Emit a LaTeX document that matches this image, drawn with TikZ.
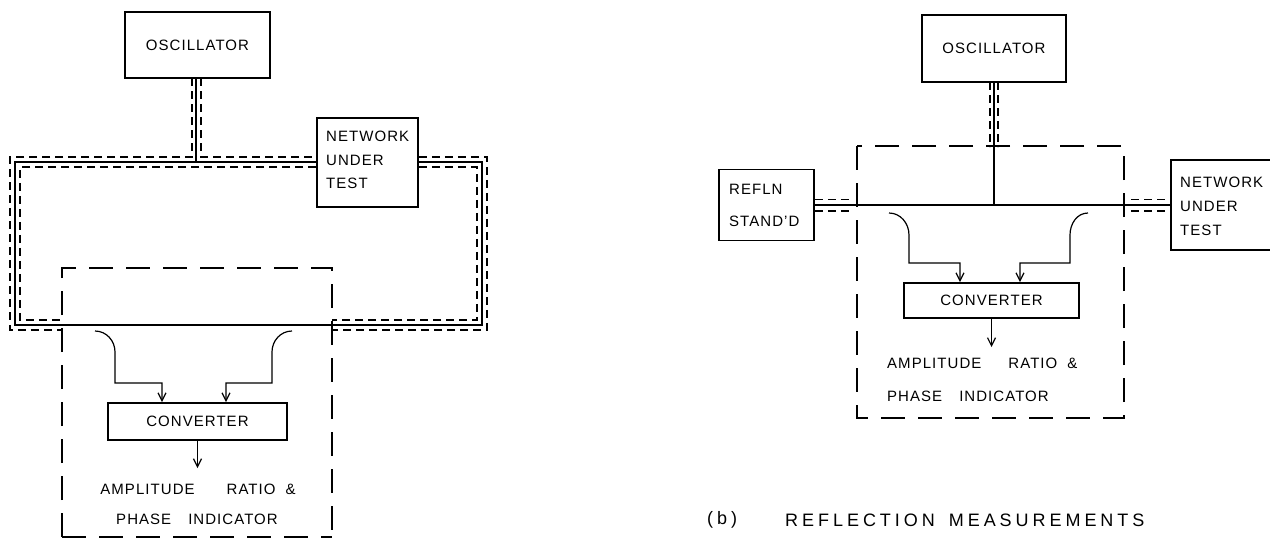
\documentclass[tikz,border=0pt]{standalone}
\usepackage{fontspec}
\setmainfont{Liberation Sans}[LetterSpace=7]
\newfontfamily\capfont{Liberation Sans}[LetterSpace=22]
\usetikzlibrary{arrows.meta,calc}
\begin{document}
\begin{tikzpicture}[x=1pt,y=-1pt,
  box/.style={draw,line width=1.8pt,inner sep=0pt},
  lbl/.style={font=\fontsize{15}{15}\selectfont,inner sep=0pt},
  wire/.style={line width=1.2pt},
  shield/.style={line width=1.1pt,dash pattern=on 8pt off 5pt},
  encl/.style={line width=1.2pt,dash pattern=on 24pt off 13pt},
  arr/.style={wire,-{Straight Barb[length=8pt,width=8pt,line width=1.2pt]}},
]
\useasboundingbox[fill=white] (0,0) rectangle (1270,542);

% ================= LEFT DIAGRAM =================
\node[box,lbl,minimum width=145pt,minimum height=66pt] (osc1) at (197.5,45) {OSCILLATOR};
\node[box,minimum width=101pt,minimum height=89pt] (nut1) at (367.5,162.5) {};
\node[lbl,anchor=west,align=left,font=\fontsize{15}{23.5}\selectfont] (nut1t) at (326,160) {NETWORK\\UNDER\\TEST};
\node[box,lbl,minimum width=179pt,minimum height=37pt] (conv1) at (197.5,421.5) {CONVERTER};
\node[lbl] (amp1) at (198,489) {AMPLITUDE\hspace{32pt}RATIO\hspace{10pt}\&};
\node[lbl] (ph1) at (197,519) {PHASE\hspace{17pt}INDICATOR};

% loop corners
\coordinate (TL) at (15,162);
\coordinate (TR) at (482,162);
\coordinate (BR) at (482,325);
\coordinate (BL) at (15,325);
\coordinate (J1) at (196,162);

% coax inner conductor
\draw[wire] (osc1.south -| J1) -- (J1);
\draw[wire] (nut1.west |- TL) -- (TL) -- (BL) -- (BR) -- (TR) -- (nut1.east |- TR);

% shields
\draw[shield] (192,78) -- (192,157) -- (10,157) -- (10,330) -- (62,330);
\draw[shield] (201,78) -- (201,157) -- (nut1.west |- 0,157);
\draw[shield] (nut1.west |- 0,167) -- (20,167) -- (20,320) -- (62,320);
\draw[shield] (nut1.east |- 0,157) -- (487,157) -- (487,330) -- (332,330);
\draw[shield] (nut1.east |- 0,167) -- (477,167) -- (477,320) -- (332,320);

% measurement enclosure
\draw[encl] (62,537) -- (62,268) -- (332,268) -- (332,537);
\draw[encl] (62,537) -- (332,537);

% branches to converter
\coordinate (c1a) at ([xshift=-35.5pt]conv1.north);
\coordinate (c1b) at ([xshift=28.5pt]conv1.north);
\draw[arr] (95,331) to[out=0,in=90] (115,352) -- (115,383) -| (c1a);
\draw[arr] (292,331) to[out=180,in=90] (272,352) -- (272,383) -| (c1b);
\coordinate (o1) at (197.5,468);
\draw[arr] (conv1.south) -- (o1);

% ================= RIGHT DIAGRAM =================
\node[box,lbl,minimum width=144pt,minimum height=67pt] (osc2) at (994,48.5) {OSCILLATOR};
\node[box,minimum width=95pt,minimum height=71pt] (refl) at (766.5,205) {};
\node[lbl,anchor=west,align=left,font=\fontsize{15}{32}\selectfont] (reflt) at (729,205) {REFLN\\STAND'D};
\node[box,minimum width=104pt,minimum height=90pt] (nut2) at (1223,205) {};
\node[lbl,anchor=west,align=left,font=\fontsize{15}{24}\selectfont] (nut2t) at (1180,206) {NETWORK\\UNDER\\TEST};
\node[box,lbl,minimum width=175pt,minimum height=35pt] (conv2) at (991.5,300.5) {CONVERTER};
\node[lbl,anchor=west] (amp2) at (887,363) {AMPLITUDE\hspace{27pt}RATIO\hspace{10pt}\&};
\node[lbl,anchor=west] (ph2) at (887,396) {PHASE\hspace{17pt}INDICATOR};

\coordinate (J2) at (994,205);
\draw[wire] (refl.east) -- (nut2.west);
\draw[wire] (osc2.south) -- (J2);

% shields
\draw[shield] (990,82) -- (990,147);
\draw[shield] (998,82) -- (998,147);
\draw[shield] (refl.east |- 0,199.5) -- (853,199.5);
\draw[shield] (refl.east |- 0,211) -- (853,211);
\draw[shield] (1131,199.5) -- (nut2.west |- 0,199.5);
\draw[shield] (1131,211) -- (nut2.west |- 0,211);

% enclosure
\draw[encl] (857,146) rectangle (1124,418);

% branches
\coordinate (c2a) at ([xshift=-31.5pt]conv2.north);
\coordinate (c2b) at ([xshift=28.5pt]conv2.north);
\draw[arr] (889,213) to[out=0,in=90] (909,235) -- (909,263) -| (c2a);
\draw[arr] (1088,213) to[out=180,in=90] (1070,235) -- (1070,263) -| (c2b);
\coordinate (o2) at (991.5,347);
\draw[arr] (conv2.south) -- (o2);

% caption
\node[inner sep=0pt,font=\capfont\fontsize{18}{18}\selectfont,anchor=west] (capb) at (707,520) {(b)};
\node[inner sep=0pt,font=\capfont\fontsize{18}{18}\selectfont,anchor=west] (capt) at (785,520) {REFLECTION\hspace{14pt}MEASUREMENTS};
\end{tikzpicture}
\end{document}
